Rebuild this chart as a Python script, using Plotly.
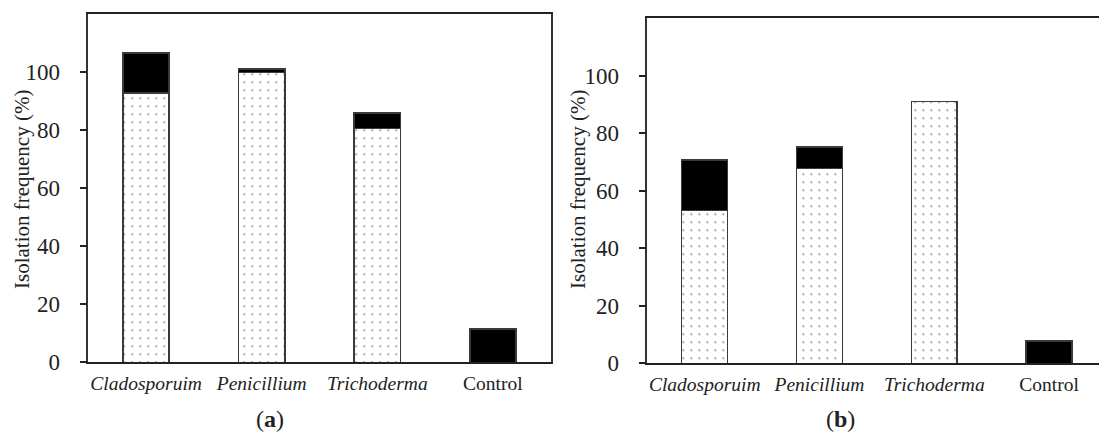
import plotly.graph_objects as go

categories = ["Cladosporuim", "Penicillium", "Trichoderma", "Control"]
tick_text = ["<i>Cladosporuim</i>", "<i>Penicillium</i>", "<i>Trichoderma</i>", "Control"]

# panel (a)
a_dotted = [92.8, 99.9, 80.7, 0]
a_black = [13.9, 1.3, 5.3, 11.4]
# panel (b)
b_dotted = [53.1, 67.7, 91.0, 0]
b_black = [17.7, 7.6, 0, 7.7]

y_ticks = [0, 20, 40, 60, 80, 100]
panel_labels = ["(<b>a</b>)", "(<b>b</b>)"]
y_title = "Isolation frequency (%)"

FONT = "Liberation Serif, Times New Roman, serif"
EDGE = "#3a3a3a"
TXT = "#222222"

fig = go.Figure()

def add_panel(dotted, black, xa, ya):
    fig.add_trace(go.Bar(
        x=categories, y=dotted, xaxis=xa, yaxis=ya, width=0.4,
        marker=dict(color="white",
                    line=dict(color=EDGE, width=1.5),
                    pattern=dict(shape=".", size=8, solidity=0.045,
                                 fgcolor="#111111", bgcolor="white")),
        showlegend=False))
    fig.add_trace(go.Bar(
        x=categories, y=black, xaxis=xa, yaxis=ya, width=0.4,
        marker=dict(color="black", line=dict(color=EDGE, width=1.5)),
        showlegend=False))

add_panel(a_dotted, a_black, "x", "y")
add_panel(b_dotted, b_black, "x2", "y2")

W, H = 1099, 437
xcommon = dict(type="category", categoryorder="array", categoryarray=categories,
               tickvals=categories, ticktext=tick_text, showgrid=False,
               ticks="", tickfont=dict(family=FONT, size=19.5, color=TXT),
               ticklabelstandoff=3,
               showline=True, linecolor="#222", linewidth=1.5, mirror=True,
               zeroline=False, automargin=False)
ycommon = dict(range=[0, 120], tickvals=y_ticks, showgrid=False, zeroline=False,
               ticks="outside", ticklen=7, tickwidth=1.5, tickcolor="#222",
               tickfont=dict(family=FONT, size=23, color=TXT),
               showline=True, linecolor="#333", linewidth=1.5,
               ticklabelstandoff=15, automargin=False)

fig.update_layout(
    width=W, height=H,
    font=dict(family=FONT, color=TXT),
    margin=dict(l=0, r=0, t=0, b=0, pad=0),
    paper_bgcolor="white", plot_bgcolor="white",
    barmode="stack", bargap=0.6,
    xaxis=dict(xcommon, domain=[88.3 / W, 550.7 / W], range=[-0.5, 3.5], anchor="y"),
    yaxis=dict(ycommon, domain=[(H - 362.3) / H, (H - 14.3) / H], anchor="x", mirror=True),
    xaxis2=dict(xcommon, domain=[647.3 / W, 1.0], range=[-0.5, 3.435], anchor="y2"),
    yaxis2=dict(ycommon, domain=[(H - 363.3) / H, (H - 18.3) / H], anchor="x2", mirror=False),
)

# y-axis titles
for xc, yc in [(22, 190), (578, 190)]:
    fig.add_annotation(text=y_title, x=xc / W, y=(H - yc) / H, xref="paper", yref="paper",
                       showarrow=False, textangle=-90, xanchor="center", yanchor="middle",
                       font=dict(family=FONT, size=21, color=TXT))

# panel labels
for lab, xc in zip(panel_labels, [270, 840]):
    fig.add_annotation(text=lab, x=xc / W, y=(H - 419) / H,
                       xref="paper", yref="paper", showarrow=False,
                       xanchor="center", yanchor="middle",
                       font=dict(family=FONT, size=24, color=TXT))

fig.write_html("out.html", config={"displayModeBar": False},
               post_script="document.body.style.margin='0';")
